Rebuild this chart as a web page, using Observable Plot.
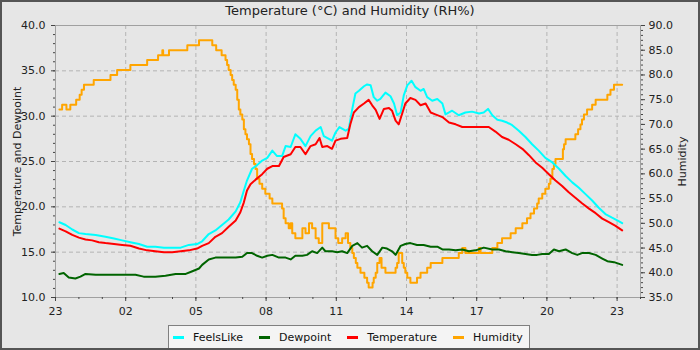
<!DOCTYPE html>
<html>
<head>
<meta charset="utf-8">
<script src="https://cdn.jsdelivr.net/npm/d3@7"></script>
<script src="https://cdn.jsdelivr.net/npm/@observablehq/plot@0.6"></script>
<style>
  body { margin: 0; background: #ffffff; }
  #chart { position: relative; width: 700px; height: 350px; background: #e6e6e6; overflow: hidden;
           font-family: "DejaVu Sans", sans-serif; color: #222; }
  #title { position: absolute; left: 0; top: 3px; width: 700px; text-align: center; font-size: 13px; }
  #plot { position: absolute; left: 0; top: 0; }
  #legend { position: absolute; left: 168px; top: 325px; width: 362px; height: 24px; box-sizing: border-box;
            background: #f4f4f4; border: 1px solid #808080; display: flex; align-items: center;
            padding-left: 4px; font-size: 11px; color: #111; }
  .item { display: flex; align-items: center; margin-right: 16px; }
  .swatch { width: 11px; height: 3px; margin-right: 9px; }
  #border { position: absolute; left: 0; top: 0; width: 700px; height: 350px; box-sizing: border-box;
            border: 2px solid #555555; pointer-events: none; }
</style>
</head>
<body>
<div id="chart">
  <div id="title">Temperature (°C) and Humidity (RH%)</div>
  <div id="plot"></div>
  <div id="legend"></div>
  <div id="border"></div>
</div>
<script>
// Readings over one day, clock time "HH:MM" (the list starts at 23:10 the evening before).
const feelsLike = [
  ["23:10",18.3],["23:26",18.0],["23:43",17.5],["00:00",17.1],["00:17",17.0],["00:43",16.9],["01:08",16.7],
  ["01:30",16.5],["01:51",16.3],["02:12",16.1],["02:34",15.9],["02:55",15.6],["03:16",15.6],["03:38",15.5],
  ["03:59",15.5],["04:21",15.5],["04:42",15.8],["05:03",15.9],["05:16",16.2],["05:33",17.0],["05:50",17.4],
  ["06:07",18.0],["06:24",18.6],["06:42",19.5],["06:54",20.5],["07:03",21.8],["07:11",22.9],["07:24",24.2],
  ["07:37",24.6],["07:50",25.1],["08:03",25.4],["08:16",26.2],["08:28",25.6],["08:41",25.6],["08:50",26.7],
  ["09:03",26.6],["09:15",28.0],["09:28",27.5],["09:41",26.7],["09:54",27.8],["10:07",28.4],["10:20",28.8],
  ["10:28",27.8],["10:41",27.5],["10:49",27.3],["10:58",28.2],["11:08",28.8],["11:24",28.4],["11:32",28.6],
  ["11:41",30.8],["11:49",32.5],["11:58",32.8],["12:11",33.3],["12:19",33.5],["12:28",33.4],["12:36",32.1],
  ["12:45",31.7],["12:53",31.9],["13:06",32.6],["13:19",32.2],["13:28",31.4],["13:36",30.1],["13:45",30.4],
  ["13:53",32.3],["14:02",33.4],["14:13",33.9],["14:23",33.2],["14:36",32.8],["14:44",33.0],["14:53",32.1],
  ["15:06",31.7],["15:19",31.9],["15:32",31.4],["15:40",30.2],["15:57",30.6],["16:14",30.1],["16:31",30.4],
  ["16:48",30.5],["17:06",30.3],["17:18",30.4],["17:29",30.8],["17:40",30.1],["17:53",29.6],["18:05",29.5],
  ["18:18",29.3],["18:31",29.0],["18:48",28.4],["19:05",27.7],["19:22",26.9],["19:39",26.2],["19:56",25.4],
  ["20:14",24.9],["20:31",24.2],["20:48",23.4],["21:05",22.7],["21:22",22.1],["21:39",21.4],["21:56",20.7],
  ["22:13",19.9],["22:30",19.2],["22:47",18.8],["23:05",18.4],["23:13",18.2]
];

const dewpoint = [
  ["23:10",12.6],["23:21",12.7],["23:34",12.2],["23:51",12.1],["00:04",12.3],["00:17",12.6],["00:43",12.5],
  ["01:08",12.5],["01:34",12.5],["01:59",12.5],["02:25",12.5],["02:46",12.3],["03:16",12.3],["03:42",12.4],
  ["04:08",12.6],["04:34",12.6],["04:51",12.9],["05:08",13.2],["05:16",13.6],["05:33",14.2],["05:50",14.4],
  ["06:07",14.4],["06:24",14.4],["06:42",14.4],["06:59",14.5],["07:11",14.9],["07:24",14.9],["07:37",14.6],
  ["07:50",14.4],["08:03",14.6],["08:16",14.7],["08:33",14.4],["08:50",14.4],["09:03",14.2],["09:15",14.6],
  ["09:33",14.6],["09:45",14.7],["09:58",15.1],["10:11",14.9],["10:24",15.5],["10:32",15.1],["10:49",15.1],
  ["11:02",15.0],["11:15",15.1],["11:28",14.9],["11:41",15.7],["11:54",16.0],["12:06",15.5],["12:19",15.7],
  ["12:32",15.1],["12:45",14.7],["12:58",15.5],["13:10",15.4],["13:23",15.1],["13:32",14.7],["13:45",15.7],
  ["13:57",15.9],["14:10",16.0],["14:27",15.8],["14:44",15.8],["15:02",15.6],["15:19",15.6],["15:32",15.3],
  ["15:49",15.3],["16:06",15.2],["16:23",15.3],["16:40",15.1],["16:57",15.2],["17:18",15.5],["17:40",15.3],
  ["17:57",15.3],["18:14",15.1],["18:31",15.0],["18:48",14.9],["19:05",14.8],["19:22",14.7],["19:35",14.7],
  ["19:48",14.8],["20:05",14.8],["20:18",15.3],["20:31",15.1],["20:48",15.3],["21:05",14.9],["21:18",14.7],
  ["21:30",14.9],["21:48",14.9],["22:05",14.7],["22:22",14.3],["22:35",14.0],["22:52",13.9],["23:13",13.6]
];

const temperature = [
  ["23:10",17.6],["23:26",17.3],["23:43",16.9],["00:00",16.6],["00:17",16.4],["00:34",16.3],["00:51",16.1],
  ["01:08",16.0],["01:30",15.9],["01:51",15.8],["02:12",15.7],["02:34",15.4],["02:55",15.2],["03:16",15.1],
  ["03:38",15.0],["03:59",15.0],["04:21",15.1],["04:42",15.2],["05:03",15.4],["05:16",15.7],["05:33",16.0],
  ["05:50",16.7],["06:07",17.1],["06:24",17.8],["06:42",18.5],["06:54",19.4],["07:03",20.5],["07:11",21.8],
  ["07:20",22.5],["07:33",23.0],["07:50",23.6],["08:03",24.2],["08:16",24.5],["08:33",24.5],["08:45",25.5],
  ["09:03",25.8],["09:15",26.6],["09:28",26.6],["09:41",25.8],["09:54",26.7],["10:07",26.9],["10:17",27.6],
  ["10:24",26.6],["10:37",26.7],["10:49",26.4],["10:58",27.3],["11:11",27.5],["11:28",27.6],["11:36",29.1],
  ["11:45",30.4],["11:58",31.0],["12:11",31.4],["12:23",31.8],["12:32",31.2],["12:41",30.7],["12:51",29.7],
  ["13:02",30.8],["13:15",30.9],["13:23",30.6],["13:32",29.5],["13:40",29.1],["13:49",30.3],["13:57",31.4],
  ["14:10",32.0],["14:23",31.8],["14:36",31.2],["14:49",31.4],["15:02",30.4],["15:14",30.2],["15:32",29.9],
  ["15:49",29.3],["16:06",29.1],["16:23",28.8],["16:40",28.8],["16:57",28.8],["17:18",28.8],["17:31",28.8],
  ["17:48",28.3],["18:05",27.7],["18:22",27.4],["18:40",26.9],["18:57",26.4],["19:14",25.7],["19:31",24.9],
  ["19:48",24.3],["20:05",23.6],["20:22",22.9],["20:39",22.3],["20:56",21.6],["21:13",21.0],["21:30",20.4],
  ["21:48",19.8],["22:05",19.3],["22:22",18.7],["22:39",18.3],["22:56",17.9],["23:13",17.4]
];

// Relative humidity in whole percent; each reading holds until the next one.
const humidity = [
  ["23:10",73],["23:17",74],["23:28",73],["23:38",74],["23:53",75],["00:02",76],["00:07",77],["00:13",78],
  ["00:38",79],["01:21",80],["01:38",81],["02:12",82],["02:55",83],["03:23",84],["03:34",85],["03:36",84],
  ["03:51",85],["04:38",86],["05:08",87],["05:42",86],["05:52",85],["06:06",84],["06:16",83],["06:20",82],
  ["06:24",81],["06:29",80],["06:33",79],["06:37",78],["06:42",77],["06:46",75],["06:50",73],["06:54",72],
  ["06:59",71],["07:03",69],["07:07",68],["07:11",67],["07:16",66],["07:20",64],["07:24",63],["07:29",62],
  ["07:33",61],["07:37",59],["07:43",58],["07:50",57],["07:58",56],["08:09",55],["08:16",54],["08:41",53],
  ["08:45",51],["08:50",50],["08:58",49],["09:03",50],["09:07",48],["09:15",47],["09:33",49],["09:41",48],
  ["09:50",50],["09:58",49],["10:07",47],["10:15",46],["10:24",50],["10:41",49],["10:58",47],["11:05",46],
  ["11:15",47],["11:24",48],["11:30",46],["11:36",45],["11:41",44],["11:45",43],["11:50",42],["11:54",41],
  ["12:02",40],["12:12",39],["12:19",38],["12:23",37],["12:33",38],["12:36",39],["12:41",40],["12:45",42],
  ["12:51",43],["12:56",41],["13:06",40],["13:32",41],["13:36",42],["13:40",44],["13:49",42],["13:53",41],
  ["13:57",40],["14:02",39],["14:10",38],["14:27",39],["14:36",40],["14:53",41],["15:02",42],["15:32",43],
  ["16:14",44],["16:23",45],["16:31",44],["17:06",45],["17:10",44],["17:35",44],["17:40",45],["17:53",46],
  ["18:05",47],["18:27",48],["18:40",49],["18:57",50],["19:09",51],["19:18",52],["19:27",53],["19:35",54],
  ["19:39",55],["19:48",56],["19:56",57],["20:05",58],["20:09",59],["20:14",61],["20:18",62],["20:22",63],
  ["20:41",65],["20:44",66],["20:48",67],["21:13",68],["21:20",69],["21:26",70],["21:30",71],["21:35",72],
  ["21:43",73],["21:56",74],["22:05",75],["22:35",76],["22:43",77],["22:52",78],["23:13",78]
];

const seriesNames  = ["FeelsLike", "Dewpoint", "Temperature", "Humidity"];
const seriesColors = ["#00ffff", "#006400", "#ff0000", "#ffa500"];
const hourTickLabels = ["23", "02", "05", "08", "11", "14", "17", "20", "23"];
const leftTicks  = [10, 15, 20, 25, 30, 35, 40];
const rightTicks = [35, 40, 45, 50, 55, 60, 65, 70, 75, 80, 85, 90];

// Time axis runs from 23:00 to midnight of the following day.
const start = new Date(Date.UTC(2024, 0, 1, 23, 0));
const end   = new Date(Date.UTC(2024, 0, 3, 0, 0));
const hour = 3600e3;

function parseSeries(rows) {
  let day = 0, prev = -1;
  return rows.map(([t, v]) => {
    const [h, m] = t.split(":").map(Number);
    const mins = h * 60 + m;
    if (prev >= 0 && mins < prev) day++;
    prev = mins;
    return {time: new Date(Date.UTC(2024, 0, 1) + (day * 1440 + mins) * 60e3), value: v};
  });
}

// Humidity shares the plot with the left scale: map 35–90 %RH onto 10–40 °C.
const toLeft = h => 10 + (h - 35) * 30 / 55;
const fromLeft = v => 35 + (v - 10) * 55 / 30;

const majorX = hourTickLabels.map((_, i) => new Date(+start + i * 3 * hour));
const minorX = d3.range(0, 26).map(i => new Date(+start + i * hour));
const labelOf = new Map(majorX.map((d, i) => [+d, hourTickLabels[i]]));

const fl = parseSeries(feelsLike);
const dp = parseSeries(dewpoint);
const tp = parseSeries(temperature);
const hu = parseSeries(humidity);

const axisColor = "#444";

const plot = Plot.plot({
  width: 700,
  height: 325,
  marginTop: 25,
  marginBottom: 28,
  marginLeft: 55,
  marginRight: 60,
  style: {background: "transparent", fontFamily: "DejaVu Sans, sans-serif", fontSize: "11px", color: "#222", overflow: "visible"},
  x: {type: "utc", domain: [start, end], axis: null},
  y: {domain: [10, 40], axis: null},
  marks: [
    Plot.gridX({ticks: majorX, stroke: "#b4b4b4", strokeOpacity: 1, strokeDasharray: "4,3"}),
    Plot.gridY({ticks: leftTicks, stroke: "#b4b4b4", strokeOpacity: 1, strokeDasharray: "4,3"}),
    Plot.frame({stroke: "#a0a0a0"}),
    Plot.line(hu, {x: "time", y: d => toLeft(d.value), curve: "step-after", stroke: seriesColors[3], strokeWidth: 2}),
    Plot.line(fl, {x: "time", y: "value", stroke: seriesColors[0], strokeWidth: 2}),
    Plot.line(dp, {x: "time", y: "value", stroke: seriesColors[1], strokeWidth: 2}),
    Plot.line(tp, {x: "time", y: "value", stroke: seriesColors[2], strokeWidth: 2}),
    Plot.axisX({ticks: majorX, tickFormat: d => labelOf.get(+d), tickSize: 4, tickPadding: 6, stroke: axisColor, label: null}),
    Plot.axisX({ticks: minorX, tickFormat: () => "", tickSize: 2, stroke: axisColor, label: null}),
    Plot.axisY({ticks: leftTicks, tickFormat: d => d.toFixed(1), tickSize: 4, tickPadding: 6, stroke: axisColor, label: null}),
    Plot.axisY({ticks: d3.range(10, 41), tickFormat: () => "", tickSize: 2, stroke: axisColor, label: null}),
    Plot.axisY({anchor: "right", ticks: rightTicks.map(toLeft), tickFormat: v => fromLeft(v).toFixed(1), tickSize: 4, tickPadding: 4, stroke: axisColor, label: null}),
    Plot.axisY({anchor: "right", ticks: d3.range(35, 91).map(toLeft), tickFormat: () => "", tickSize: 2, stroke: axisColor, label: null}),
    Plot.text(["Temperature and Dewpoint"], {frameAnchor: "left", dx: -38, rotate: -90, textAnchor: "middle", fontSize: 11, fill: "#222"}),
    Plot.text(["Humidity"], {frameAnchor: "right", dx: 42, rotate: -90, textAnchor: "middle", fontSize: 11, fill: "#222"})
  ]
});
document.getElementById("plot").appendChild(plot);

const legend = d3.select("#legend");
seriesNames.forEach((name, i) => {
  const item = legend.append("div").attr("class", "item");
  item.append("div").attr("class", "swatch").style("background", seriesColors[i]);
  item.append("span").text(name);
});
</script>
</body>
</html>
